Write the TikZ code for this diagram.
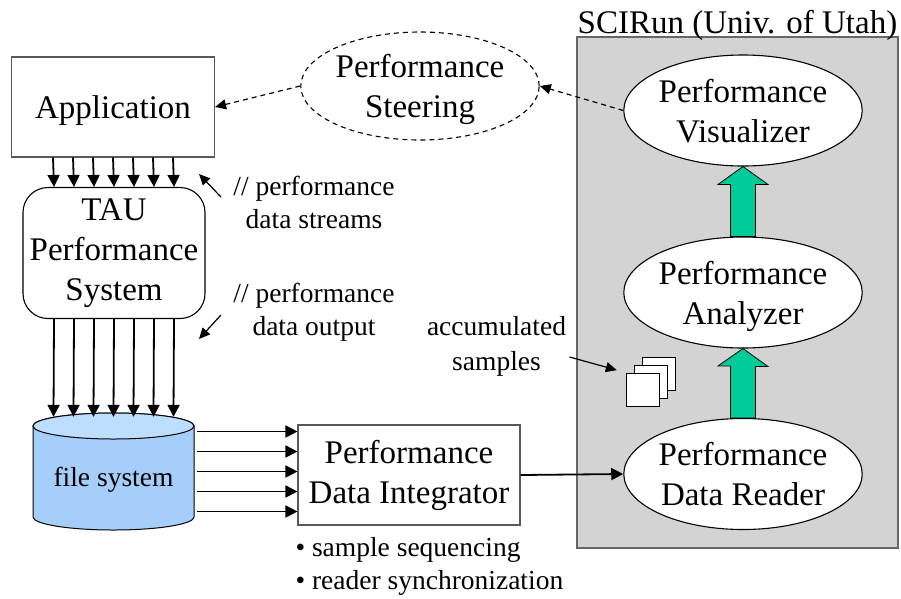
\documentclass[tikz,border=0pt]{standalone}
\usepackage{fontspec}
\setmainfont{Liberation Serif}
\usetikzlibrary{arrows.meta,shapes.geometric}
\definecolor{fsbody}{RGB}{166,206,250}
\definecolor{fstop}{RGB}{190,222,255}
\definecolor{scigray}{RGB}{211,211,211}
\definecolor{flowgreen}{RGB}{0,204,153}
\tikzset{
  box/.style={draw=black!65,line width=1.1pt,fill=white,align=center,inner sep=0pt},
  oval/.style={ellipse,draw,line width=1.1pt,fill=white,align=center,inner sep=0pt,text depth=0pt,minimum width=232pt,minimum height=111pt},
  arr/.style={line width=1.8pt,-{Triangle[length=12pt,width=12pt]}},
  thinarr/.style={line width=1.2pt,-{Triangle[length=11pt,width=10pt]}},
  dasharr/.style={line width=1.2pt,dash pattern=on 5pt off 4pt,-{Triangle[length=11pt,width=10pt]}},
  note/.style={font=\fontsize{27.5}{33}\selectfont,align=center},
  sample/.style={draw,line width=1pt,fill=white,minimum size=33pt,inner sep=0pt},
  fat/.style={draw,line width=0.8pt,fill=flowgreen}
}
\begin{document}
\begin{tikzpicture}[x=1pt,y=-1pt,font=\fontsize{33}{40}\selectfont]
\useasboundingbox (0,0) rectangle (901,598);
\draw[draw=black!60,line width=1.2pt,fill=scigray] (577,37) rectangle (898,548);
\node (sci) [anchor=base] at (737.5,33) {SCIRun (Univ. of Utah)};

\node (app) [box,text depth=0pt,minimum width=203pt,minimum height=100pt] at (113,107) {Application};
\node (tau) [box,draw=black,rounded corners=25pt,minimum width=182pt,minimum height=131pt] at (114,253) {TAU\\Performance\\System};
\node (steer) [oval,dashed,dash pattern=on 5pt off 4pt,minimum width=230pt,minimum height=108pt] at (420,86) {Performance\\Steering};
\node (vis) [oval] at (743,110.5) {Performance\\Visualizer};
\node (ana) [oval] at (743,292.5) {Performance\\Analyzer};
\node (rdr) [oval] at (743,474) {Performance\\Data Reader};
\node (integ) [box,minimum width=222pt,minimum height=100pt] at (409,475) {Performance\\Data Integrator};

\draw[fill=fsbody,line width=1pt] (33,426) -- (33,517) arc[start angle=180,end angle=360,x radius=80.5pt,y radius=13pt] -- (194,426) arc[start angle=0,end angle=180,x radius=80.5pt,y radius=13pt] -- cycle;
\draw[fill=fstop,line width=1pt] (113.5,426) ellipse[x radius=80.5pt,y radius=13pt];
\node (fs) [minimum width=161pt,minimum height=117pt,inner sep=0pt] at (113.5,471.5) {};
\node (fslabel) [note] at ([yshift=-8pt]fs.center) {file system};

\foreach \dx in {-60,-40,...,60}
  \draw[arr] ([xshift=\dx pt]app.south) -- ([xshift=\dx pt]tau.north);
\foreach \dx in {-60,-40,...,60}
  \draw[arr] ([xshift=\dx pt]tau.south) -- ([xshift=\dx pt,yshift=-4pt]fs.north);
\foreach \dy in {-40,-20,...,40}
  \draw[arr] ([xshift=3pt,yshift=\dy pt]fs.east) -- ([yshift=\dy pt]fs.east -| integ.west);
\draw[arr] (integ.east) -- (rdr.west);

\draw[dasharr] (vis.west) -- (steer.east);
\draw[dasharr] (steer.west) -- (app.east);

\foreach \lo/\hi in {ana/vis,rdr/ana}
  \draw[fat] ([xshift=-12.5pt]\lo.north) -- ++(0,-52) -- ++(-12.5,0) -- (\hi.south) -- ++(25,18) -- ++(-12.5,0) -- ([xshift=12.5pt]\lo.north) -- cycle;

\node (streams) [note] at (314,202) {// performance\\data streams};
\node (output) [note] at (314,312.5) {// performance\\data output};
\coordinate (c1) at (199,174);
\coordinate (c2) at (199,339);
\draw[thinarr] ([xshift=-9pt,yshift=5pt]streams.west) -- (c1);
\draw[thinarr] ([xshift=-9pt,yshift=-2.5pt]output.west) -- (c2);

\node (acc) [note,font=\fontsize{27.5}{35}\selectfont] at (496.5,346) {accumulated\\samples};
\foreach \i in {2,1,0}
  \node (s\i) [sample] at (642.5+8*\i,389.5-8*\i) {};
\draw[thinarr,shorten >=9pt] ([yshift=-11pt]acc.east) -- (s0.north west);

\node (steps) [note,align=left,anchor=west] at (292,566) {\textbullet{} sample sequencing\\\textbullet{} reader synchronization};
\end{tikzpicture}
\end{document}
